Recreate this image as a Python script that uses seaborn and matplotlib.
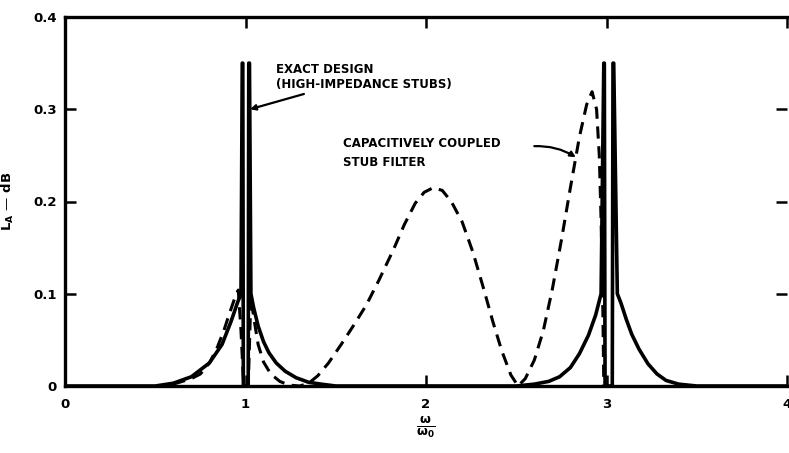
import numpy as np
import pandas as pd
import matplotlib
matplotlib.use("Agg")
import matplotlib.pyplot as plt
import seaborn as sns

# exact design (high-impedance stubs), solid; spikes are clipped at 0.35
exact_x = [0.0, 0.5, 0.6, 0.7, 0.8, 0.87, 0.92, 0.955, 0.975, 0.982, 0.985, 0.988,
           1.015, 1.018, 1.022, 1.03, 1.045, 1.07, 1.1, 1.13, 1.17, 1.22, 1.28, 1.35, 1.42, 1.5,
           2.5, 2.6, 2.68, 2.74, 2.8, 2.85, 2.9, 2.94, 2.97, 2.985, 2.988, 2.992,
           3.032, 3.036, 3.04, 3.06, 3.08, 3.11, 3.14, 3.18, 3.23, 3.28, 3.33, 3.4, 3.5, 3.6, 4.0]
exact_y = [0.0, 0.0, 0.003, 0.01, 0.025, 0.045, 0.07, 0.09, 0.1, 0.35, 0.35, 0.0,
           0.0, 0.35, 0.35, 0.1, 0.085, 0.065, 0.048, 0.036, 0.025, 0.016, 0.009, 0.004, 0.002, 0.0,
           0.0, 0.002, 0.005, 0.01, 0.02, 0.035, 0.055, 0.077, 0.1, 0.35, 0.35, 0.0,
           0.0, 0.35, 0.35, 0.1, 0.09, 0.072, 0.056, 0.04, 0.024, 0.013, 0.006, 0.002, 0.0, 0.0, 0.0]

# capacitively coupled stub filter, dashed
cap_x = [0.6, 0.7, 0.75, 0.8, 0.84, 0.88, 0.91, 0.94, 0.96, 0.975, 0.99,
         1.015, 1.03, 1.045, 1.07, 1.1, 1.14, 1.19, 1.24, 1.3, 1.35, 1.4, 1.46, 1.53,
         1.6, 1.67, 1.74, 1.82, 1.88, 1.94, 1.99, 2.04, 2.09, 2.14, 2.2, 2.26, 2.32,
         2.37, 2.42, 2.47, 2.51, 2.55, 2.6, 2.65, 2.7, 2.75, 2.8, 2.85, 2.89, 2.92,
         2.945, 2.96, 2.97, 2.98, 2.985]
cap_y = [0.002, 0.008, 0.013, 0.025, 0.04, 0.06, 0.078, 0.095, 0.104, 0.06, 0.0,
         0.0, 0.097, 0.075, 0.045, 0.026, 0.013, 0.005, 0.001, 0.0, 0.003, 0.011, 0.025, 0.045,
         0.066, 0.088, 0.115, 0.148, 0.175, 0.198, 0.21, 0.215, 0.212, 0.2, 0.178, 0.145, 0.105,
         0.07, 0.038, 0.012, 0.0, 0.008, 0.028, 0.06, 0.105, 0.158, 0.215, 0.27, 0.305, 0.319,
         0.3, 0.25, 0.18, 0.08, 0.0]

x_ticks = [0, 1, 2, 3, 4]
y_ticks = [0, 0.1, 0.2, 0.3, 0.4]
y_labels = ["0", "0.1", "0.2", "0.3", "0.4"]

sns.set_style("ticks")
plt.rcParams["font.family"] = ["DejaVu Sans"]
plt.rcParams["font.weight"] = "bold"
for key in ["text.color", "axes.labelcolor", "xtick.color", "ytick.color", "axes.edgecolor"]:
    plt.rcParams[key] = "black"

fig = plt.figure(figsize=(7.89, 4.53), dpi=100)
ax = fig.add_axes([65 / 789, 1 - 386 / 453, 722 / 789, 369 / 453])

exact = pd.DataFrame({"x": exact_x, "y": exact_y})
cap = pd.DataFrame({"x": cap_x, "y": cap_y})
sns.lineplot(data=exact, x="x", y="y", sort=False, estimator=None,
             color="black", linewidth=2.6, ax=ax)
sns.lineplot(data=cap, x="x", y="y", sort=False, estimator=None,
             color="black", linewidth=2.2, linestyle=(0, (4, 2.5)), ax=ax)

ax.set_xlim(0, 4)
ax.set_ylim(0, 0.4)
ax.set_xticks(x_ticks)
ax.set_yticks(y_ticks)
ax.set_yticklabels(y_labels)
for s in ["left", "bottom", "top"]:
    ax.spines[s].set_linewidth(2.4)
ax.spines["right"].set_visible(False)
ax.tick_params(direction="in", length=8, width=1.8, labelsize=9.5,
               top=True, right=True, pad=6)
ax.tick_params(axis="x", pad=9)

ax.set_xlabel(r"$\mathbf{\frac{\omega}{\omega_0}}$", fontsize=13, labelpad=2)
ax.set_ylabel(r"L$_\mathbf{A}$ — dB", fontsize=9.5, fontweight="bold", labelpad=12)

ax.annotate("EXACT DESIGN\n(HIGH-IMPEDANCE STUBS)", xy=(1.025, 0.3), xytext=(1.17, 0.335),
            fontsize=8.5, fontweight="bold", va="center", ha="left", linespacing=1.15,
            arrowprops=dict(arrowstyle="-|>", color="black", lw=1.6,
                            shrinkA=0, shrinkB=0, mutation_scale=8))
ax.annotate("CAPACITIVELY COUPLED", xy=(2.83, 0.248), xytext=(1.54, 0.263),
            fontsize=8.5, fontweight="bold", va="center", ha="left")
ax.annotate("", xy=(2.83, 0.248), xytext=(2.6, 0.26),
            arrowprops=dict(arrowstyle="-|>", color="black", lw=1.6,
                            connectionstyle="arc3,rad=-0.15",
                            shrinkA=0, shrinkB=0, mutation_scale=8))
ax.text(1.54, 0.242, "STUB FILTER", fontsize=8.5, fontweight="bold", va="center", ha="left")

fig.savefig("out.png", dpi=100)
